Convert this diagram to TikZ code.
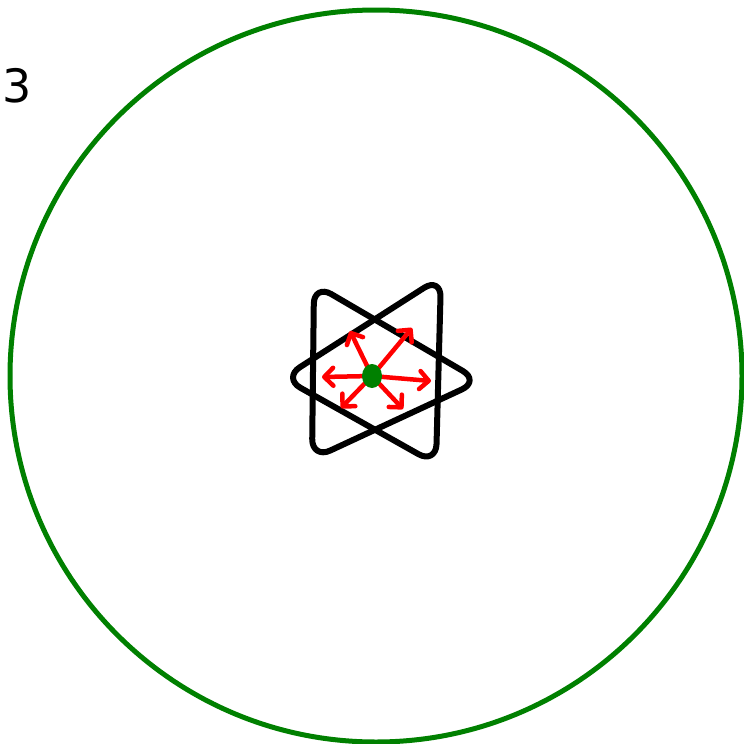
\documentclass[tikz,border=0pt]{standalone}
\usepackage{fontspec}
\setmainfont{DejaVu Sans}
\usetikzlibrary{arrows.meta}
\definecolor{ringgreen}{RGB}{0,128,0}
\begin{document}
\begin{tikzpicture}[x=1pt,y=-1pt,
  blackline/.style={draw=black,line width=6pt,rounded corners=20pt,line join=round},
  redarrow/.style={draw=red,line width=4.5pt,line cap=round,-{Straight Barb[length=9pt,width=18pt,line width=4.5pt,round]}}]
\useasboundingbox (0,0) rectangle (744,744);
\draw[ringgreen,line width=5pt] (376,376) circle (366);
\node[font=\fontsize{46}{46}\selectfont, anchor=west, inner sep=0pt] (three) at (2,86) {3};
% two triangles
\draw[blackline] (314,284) -- (480,381) -- (312,459) -- cycle;
\draw[blackline] (283,378) -- (441,277) -- (436,464) -- cycle;
% centre
\coordinate (c) at (372,376);
\coordinate (t1) at (322,377);
\coordinate (t2) at (350,331);
\coordinate (t3) at (412,328);
\coordinate (t4) at (431,381);
\coordinate (t5) at (403,409);
\coordinate (t6) at (341,408);
\foreach \t in {t1,t2,t3,t4,t5,t6} \draw[redarrow] (c) -- (\t);
\fill[ringgreen] (c) ellipse (10 and 12);
\end{tikzpicture}
\end{document}
